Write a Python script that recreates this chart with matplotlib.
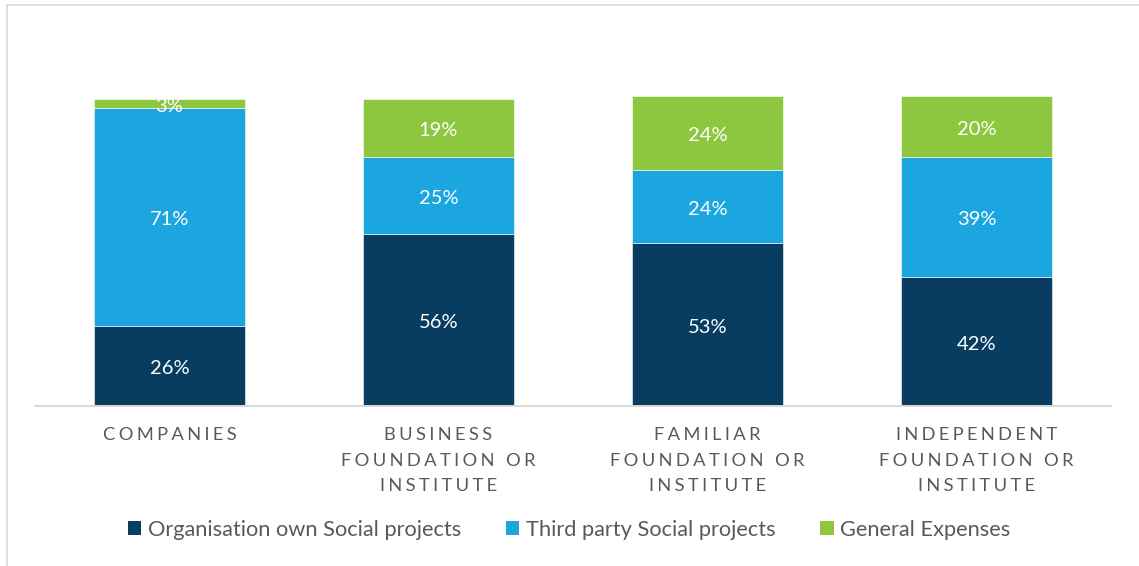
import matplotlib
matplotlib.use("Agg")
import matplotlib.pyplot as plt
from matplotlib.lines import Line2D
from matplotlib.patches import Patch

plt.rcParams['font.family'] = ['Lato', 'DejaVu Sans']

categories = ["COMPANIES", "BUSINESS\nFOUNDATION OR\nINSTITUTE",
              "FAMILIAR\nFOUNDATION OR\nINSTITUTE", "INDEPENDENT\nFOUNDATION OR\nINSTITUTE"]
series_names = ["Organisation own Social projects", "Third party Social projects", "General Expenses"]
own_projects = [26, 56, 53, 42]
third_party = [71, 25, 24, 39]
general_expenses = [3, 19, 24, 20]

colors = ["#083C60", "#1CA6DF", "#8DC63F"]
text_gray = "#595959"

W, H = 1139, 566
fig = plt.figure(figsize=(W / 100, H / 100), dpi=100)

# frame lines of the chart area
fig.add_artist(Line2D([6.5 / W, 6.5 / W], [0, 1 - 4.5 / H], color="#D9D9D9", lw=1.2))
fig.add_artist(Line2D([6.5 / W, 1], [1 - 4.5 / H, 1 - 4.5 / H], color="#D9D9D9", lw=1.2))

ymax = 110
px_per_unit = 3.07
ax_bottom = 406
ax_top = ax_bottom - ymax * px_per_unit
ax_left, ax_right = 35, 1111
ax = fig.add_axes([ax_left / W, 1 - ax_bottom / H, (ax_right - ax_left) / W, (ax_bottom - ax_top) / H])

x = list(range(len(categories)))
width = 0.5625
series = [own_projects, third_party, general_expenses]
bottoms = [0] * len(categories)
for vals, col, name in zip(series, colors, series_names):
    ax.bar(x, vals, width, bottom=bottoms, color=col, edgecolor="white",
           linewidth=0.4, label=name)
    for xi, b, v in zip(x, bottoms, vals):
        ax.annotate(f"{v}%", xy=(xi, b + v / 2), xytext=(0, -2), textcoords="offset points",
                    ha="center", va="center", color="white", fontsize=14.5)
    bottoms = [b + v for b, v in zip(bottoms, vals)]

ax.set_xlim(-0.5, 3.5)
ax.set_ylim(0, ymax)
for s in ["top", "left", "right"]:
    ax.spines[s].set_visible(False)
ax.spines["bottom"].set_color("#D9D9D9")
ax.spines["bottom"].set_linewidth(1.4)
ax.set_yticks([])
ax.set_xticks([])


def tracked(label):
    sp = "\u2009\u200a"
    return "\n".join(sp.join(line) for line in label.split("\n"))


for xi, lab in zip(x, categories):
    ax.annotate(tracked(lab), xy=(xi, 0), xycoords=("data", "axes fraction"),
                xytext=(0, -15), textcoords="offset points", ha="center", va="top",
                fontsize=13.2, color=text_gray, linespacing=1.75)

handles = [Patch(facecolor=c, edgecolor="none") for c in colors]
fig.legend(handles, series_names, loc="center", bbox_to_anchor=(569 / W, 1 - 530 / H),
           ncol=3, frameon=False, fontsize=15.7, handlelength=0.62, handleheight=0.62,
           handletextpad=0.3, columnspacing=2.05, labelcolor=text_gray)

fig.savefig("out.png", dpi=100, facecolor="white")
